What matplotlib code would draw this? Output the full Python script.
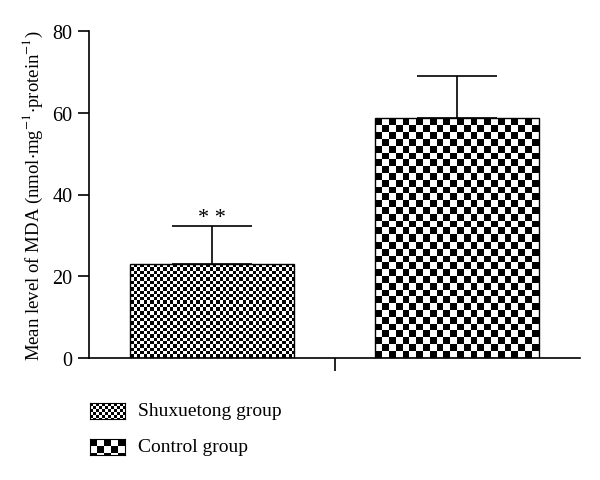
import numpy as np
import matplotlib
matplotlib.use("Agg")
import matplotlib.pyplot as plt

plt.rcParams["font.family"] = ["Liberation Serif", "DejaVu Serif"]
plt.rcParams["mathtext.fontset"] = "stix"

groups = ["Shuxuetong group", "Control group"]
means = [23.0, 58.8]
sds = [9.3, 10.3]
marks = ["* *", ""]
cell_px = [3.3, 6.8]  # checker cell size in pixels for each group
y_ticks = [0, 20, 40, 60, 80]


def checker_px(h, w, cell):
    """Damier 0/1 de h x w pixels avec des cases de `cell` pixels."""
    r, c = np.indices((h, w))
    return ((np.floor(r / cell) + np.floor(c / cell)) % 2).astype(float)


fig = plt.figure(figsize=(6, 4.81), dpi=100)
ax = fig.add_axes([89 / 600, 1 - 359 / 481, 491 / 600, 327 / 481])

x = np.arange(len(groups))
width = 0.668
bars = ax.bar(x, means, width=width, color="none", edgecolor="black",
              linewidth=1.0, zorder=3)
ax.errorbar(x, means, yerr=[np.zeros(len(sds)), sds], fmt="none",
            ecolor="black", elinewidth=1.2, capsize=29, capthick=1.2,
            zorder=2)

ax.set_xlim(-0.5, 1.5)
ax.set_ylim(0, 80)
ax.set_yticks(y_ticks)
ax.set_xticks([0.5])
ax.set_xticklabels([""])
ax.tick_params(axis="y", labelsize=14.5, length=8, width=1.2, pad=4)
ax.tick_params(axis="x", length=9, width=1.2)
for side in ("top", "right"):
    ax.spines[side].set_visible(False)
for side in ("left", "bottom"):
    ax.spines[side].set_linewidth(1.2)
ax.set_ylabel(r"Mean level of MDA (nmol$\cdot$mg$^{-1}$$\cdot$protein$^{-1}$)",
              fontsize=13.5, labelpad=5)

fig.canvas.draw()
for bar, cell in zip(bars, cell_px):
    x0, y0 = bar.get_x(), 0
    x1, y1 = x0 + bar.get_width(), bar.get_height()
    p0 = ax.transData.transform((x0, y0))
    p1 = ax.transData.transform((x1, y1))
    w = int(round(p1[0] - p0[0]))
    h = int(round(p1[1] - p0[1]))
    img = ax.imshow(checker_px(h, w, cell), cmap="gray", vmin=0, vmax=1,
                    extent=(x0, x1, y0, y1), origin="lower",
                    interpolation="nearest", aspect="auto", zorder=1)
    img.set_clip_path(bar)
ax.set_xlim(-0.5, 1.5)
ax.set_ylim(0, 80)

for xi, m, s, t in zip(x, means, sds, marks):
    if t:
        ax.text(xi, m + s - 0.3, t, ha="center", va="bottom", fontsize=16)

# legend built by hand so the checker patterns show
leg_y = [404, 440]
leg_cell = [3.0, 7.0]
for name, yp, cell in zip(groups, leg_y, leg_cell):
    lax = fig.add_axes([90 / 600, 1 - (yp + 16) / 481, 35 / 600, 16 / 481])
    lax.imshow(checker_px(16, 35, cell), cmap="gray", vmin=0, vmax=1,
               interpolation="nearest", aspect="auto")
    lax.set_xticks([])
    lax.set_yticks([])
    for sp in lax.spines.values():
        sp.set_linewidth(0.8)
    fig.text(138 / 600, 1 - (yp + 8) / 481, name, ha="left", va="center",
             fontsize=14)

fig.savefig("out.png", dpi=100)
